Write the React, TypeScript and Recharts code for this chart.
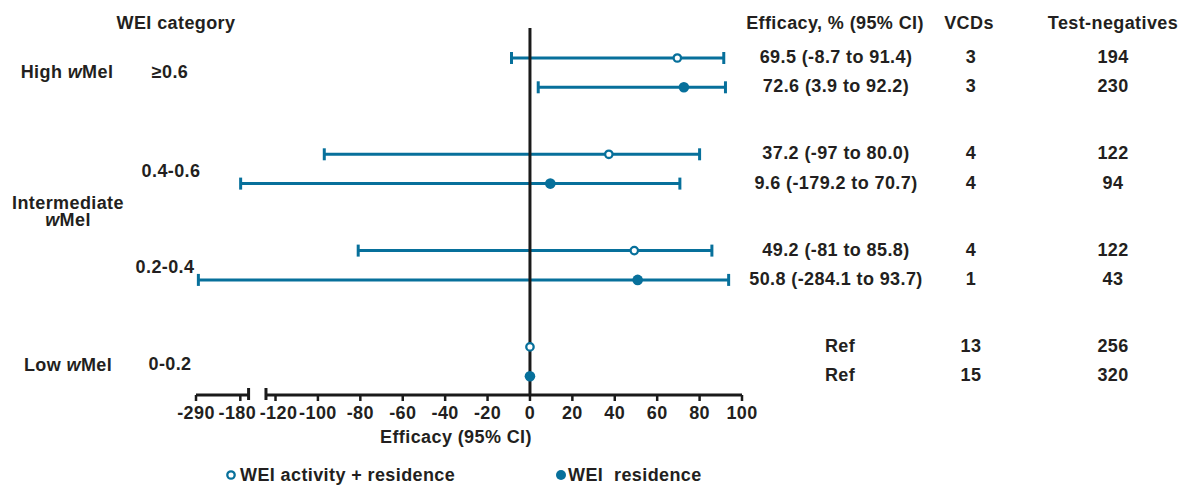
import React from 'react';
import {
  ScatterChart, Scatter, XAxis, YAxis, ErrorBar,
  ReferenceLine, Customized,
} from 'recharts';

// rows per WEI category: first = WEI activity + residence, second = WEI residence
const CATEGORIES = ['High wMel ≥0.6', 'Intermediate wMel 0.4-0.6', 'Intermediate wMel 0.2-0.4', 'Low wMel 0-0.2'];

const ACT_EFFICACY = [69.5, 37.2, 49.2, 0];
const ACT_LOW = [-8.7, -97, -81, null];
const ACT_HIGH = [91.4, 80.0, 85.8, null];
const ACT_TEXT = ['69.5 (-8.7 to 91.4)', '37.2 (-97 to 80.0)', '49.2 (-81 to 85.8)', 'Ref'];
const ACT_VCDS = [3, 4, 4, 13];
const ACT_TESTNEG = [194, 122, 122, 256];

const RES_EFFICACY = [72.6, 9.6, 50.8, 0];
const RES_LOW = [3.9, -179.2, -284.1, null];
const RES_HIGH = [92.2, 70.7, 93.7, null];
const RES_TEXT = ['72.6 (3.9 to 92.2)', '9.6 (-179.2 to 70.7)', '50.8 (-284.1 to 93.7)', 'Ref'];
const RES_VCDS = [3, 4, 1, 15];
const RES_TESTNEG = [230, 94, 43, 320];

const TICK_VALUES = [-290, -180, -120, -100, -80, -60, -40, -20, 0, 20, 40, 60, 80, 100];

const BLUE = '#07709b';
const INK = '#231f20';
const FONT = "'Liberation Sans', Arial, Helvetica, sans-serif";
const TXT = { fontFamily: FONT, fontWeight: 700, fontSize: 18, letterSpacing: 0.4, fill: INK };

// broken axis: values below -125 are squeezed into a short segment on the left
const BREAK_AT = -125;
const ANCHOR = -180;
const ANCHOR_POS = -136.6;
const LEFT_RATIO = 0.19;
const toAxis = (v: number) => (v >= BREAK_AT ? v : ANCHOR_POS + (v - ANCHOR) * LEFT_RATIO);

const X_MIN = toAxis(-290);
const LEFT_END = -132.7;
const RIGHT_START = -124.5;
const PLOT_H = 367;

const rowY = (group: number, sub: number) => 30 + group * 96.3 + sub * 29.3;

function buildRows(series: string, sub: number, eff: number[], low: (number | null)[], high: (number | null)[],
  text: string[], vcds: number[], tn: number[]) {
  return eff.map((e, i) => {
    const x = toAxis(e);
    const lo = low[i];
    const hi = high[i];
    return {
      series,
      category: CATEGORIES[i],
      x,
      y: rowY(i, sub),
      err: lo == null || hi == null ? null : [x - toAxis(lo), toAxis(hi) - x],
      text: text[i],
      vcds: vcds[i],
      tn: tn[i],
    };
  });
}

const actRows = buildRows('act', 0, ACT_EFFICACY, ACT_LOW, ACT_HIGH, ACT_TEXT, ACT_VCDS, ACT_TESTNEG);
const resRows = buildRows('res', 1, RES_EFFICACY, RES_LOW, RES_HIGH, RES_TEXT, RES_VCDS, RES_TESTNEG);
const ciRows = [...actRows, ...resRows].filter((r) => r.err);

function RowShape(props: any) {
  const { cx, cy, payload } = props;
  const open = payload.series === 'act';
  return (
    <g>
      {open
        ? <circle cx={cx} cy={cy} r={3.7} fill="#fff" stroke={BLUE} strokeWidth={2.3} />
        : <circle cx={cx} cy={cy} r={5.3} fill={BLUE} />}
      <text {...TXT} x={payload.text === 'Ref' ? 840 : 836} y={cy + 5} textAnchor="middle">{payload.text}</text>
      <text {...TXT} x={971} y={cy + 5} textAnchor="middle">{payload.vcds}</text>
      <text {...TXT} x={1113} y={cy + 5} textAnchor="middle">{payload.tn}</text>
    </g>
  );
}

// the labels next to the axis break sit slightly apart in the original
const TICK_NUDGE: Record<number, number> = { 1: -3, 2: 3 };

function AxisTick(props: any) {
  const { x, y, index } = props;
  return (
    <text {...TXT} x={x + (TICK_NUDGE[index] ?? 0)} y={y} dy={18} textAnchor="middle">{TICK_VALUES[index]}</text>
  );
}

function Annotations() {
  return (
    <g>
      {/* headers */}
      <text {...TXT} x={176} y={29} textAnchor="middle">WEI category</text>
      <text {...TXT} x={835} y={29} textAnchor="middle">Efficacy, % (95% CI)</text>
      <text {...TXT} x={969} y={29} textAnchor="middle">VCDs</text>
      <text {...TXT} x={1113} y={29} textAnchor="middle">Test-negatives</text>

      {/* category labels */}
      <text {...TXT} x={67} y={78} textAnchor="middle">High <tspan fontStyle="italic">w</tspan>Mel</text>
      <text {...TXT} x={170} y={78} textAnchor="middle">≥0.6</text>
      <text {...TXT} x={171} y={177} textAnchor="middle">0.4-0.6</text>
      <text {...TXT} x={68} y={209} textAnchor="middle">Intermediate</text>
      <text {...TXT} x={68} y={226} textAnchor="middle"><tspan fontStyle="italic">w</tspan>Mel</text>
      <text {...TXT} x={165} y={273} textAnchor="middle">0.2-0.4</text>
      <text {...TXT} x={68} y={371} textAnchor="middle">Low <tspan fontStyle="italic">w</tspan>Mel</text>
      <text {...TXT} x={170} y={370} textAnchor="middle">0-0.2</text>

      {/* axis title */}
      <text {...TXT} x={456} y={443} textAnchor="middle">Efficacy (95% CI)</text>

      {/* legend */}
      <circle cx={231} cy={475} r={3.7} fill="#fff" stroke={BLUE} strokeWidth={2.3} />
      <text {...TXT} x={240} y={481}>WEI activity + residence</text>
      <circle cx={561} cy={475} r={5} fill={BLUE} />
      <text {...TXT} x={568} y={481} style={{ whiteSpace: 'pre' }}>{'WEI  residence'}</text>
    </g>
  );
}

export default function App() {
  return (
    <div style={{ position: 'absolute', left: 0, top: 0, width: 1180, height: 486, background: '#fff' }}>
      <ScatterChart width={1180} height={486} margin={{ top: 28, right: 438, bottom: 51, left: 196 }}>
        <XAxis
          type="number"
          dataKey="x"
          domain={[X_MIN, 100]}
          ticks={TICK_VALUES.map(toAxis)}
          interval={0}
          axisLine={false}
          tickLine={{ stroke: '#1a1a1a', strokeWidth: 2.5 }}
          tickSize={6}
          tickMargin={0}
          tick={<AxisTick />}
          height={40}
        />
        <YAxis type="number" dataKey="y" domain={[0, PLOT_H]} reversed hide />

        {/* confidence intervals */}
        <Scatter data={ciRows} shape={() => <g />} isAnimationActive={false}>
          <ErrorBar dataKey="err" direction="x" width={6} stroke={BLUE} strokeWidth={3} isAnimationActive={false} />
        </Scatter>

        <ReferenceLine x={0} stroke="#1a1a1a" strokeWidth={3} />

        {/* broken x axis line */}
        <ReferenceLine segment={[{ x: X_MIN, y: PLOT_H }, { x: LEFT_END, y: PLOT_H }]} stroke="#1a1a1a" strokeWidth={3} ifOverflow="visible" />
        <ReferenceLine segment={[{ x: RIGHT_START, y: PLOT_H }, { x: 100, y: PLOT_H }]} stroke="#1a1a1a" strokeWidth={3} ifOverflow="visible" />
        <ReferenceLine segment={[{ x: LEFT_END, y: PLOT_H - 7 }, { x: LEFT_END, y: PLOT_H + 5 }]} stroke="#1a1a1a" strokeWidth={3} ifOverflow="visible" />
        <ReferenceLine segment={[{ x: RIGHT_START, y: PLOT_H - 7 }, { x: RIGHT_START, y: PLOT_H + 5 }]} stroke="#1a1a1a" strokeWidth={3} ifOverflow="visible" />

        <Scatter name="WEI activity + residence" data={actRows} shape={RowShape} isAnimationActive={false} />
        <Scatter name="WEI residence" data={resRows} shape={RowShape} isAnimationActive={false} />

        <Customized component={Annotations} />
      </ScatterChart>
    </div>
  );
}
